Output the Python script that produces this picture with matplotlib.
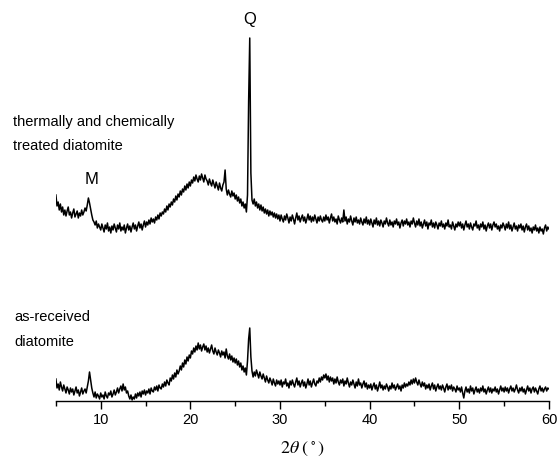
import numpy as np
import matplotlib.pyplot as plt
from matplotlib.ticker import MultipleLocator

plt.rcParams['font.family'] = ['Liberation Sans', 'DejaVu Sans']
plt.rcParams['mathtext.fontset'] = 'stix'

# 2theta grid, 0.125 deg steps from 5 to 60
two_theta = np.linspace(5.0, 60.0, 441)

# intensity (a.u.), as-received diatomite
as_received = [
    22, 13, 17, 11, 19, 14, 10, 16, 12, 8, 14, 11, 7, 13, 9, 12, 6, 10, 14, 8, 11, 5, 9, 13, 7, 10, 12, 8, 14, 20, 29, 21, 13, 8, 4, 9, 3, 7, 5, 2,
    8, 4, 6, 2, 9, 5, 3, 8, 6, 10, 4, 7, 11, 6, 9, 13, 8, 12, 15, 10, 17, 11, 14, 8, 10, 5, 2, 6, 1, 4, 2, 7, 3, 8, 5, 9, 4, 10, 7, 11,
    6, 10, 8, 12, 7, 13, 10, 9, 14, 11, 15, 10, 16, 13, 12, 17, 14, 19, 15, 21, 18, 16, 23, 20, 26, 22, 28, 24, 31, 27, 30, 35, 31, 38, 34, 41, 37, 44, 40, 46,
    43, 50, 47, 53, 49, 55, 51, 58, 52, 56, 50, 54, 57, 51, 55, 49, 53, 48, 52, 56, 50, 47, 53, 49, 46, 51, 48, 44, 50, 46, 49, 43, 52, 45, 42, 47, 41, 45, 39, 43,
    38, 42, 36, 40, 34, 38, 31, 35, 29, 33, 26, 40, 62, 73, 44, 30, 24, 29, 25, 31, 27, 23, 29, 25, 22, 27, 23, 19, 25, 21, 18, 23, 20, 16, 22, 18, 15, 21, 17, 20,
    16, 21, 14, 19, 17, 22, 15, 18, 13, 20, 16, 21, 17, 14, 19, 23, 16, 20, 14, 18, 21, 15, 19, 13, 17, 22, 16, 20, 14, 18, 22, 17, 15, 20, 18, 23, 19, 24, 21, 26,
    23, 27, 21, 25, 19, 24, 20, 23, 17, 22, 18, 24, 19, 16, 21, 18, 22, 15, 20, 17, 23, 18, 14, 19, 16, 21, 17, 13, 19, 15, 22, 16, 18, 13, 17, 20, 14, 18, 12, 16,
    13, 17, 11, 15, 18, 12, 16, 10, 14, 19, 13, 16, 11, 15, 12, 17, 14, 10, 15, 12, 18, 13, 16, 11, 14, 17, 12, 15, 10, 16, 13, 18, 14, 17, 15, 19, 16, 21, 17, 22,
    18, 23, 19, 16, 21, 17, 14, 19, 15, 18, 12, 16, 13, 17, 11, 15, 18, 12, 16, 10, 14, 17, 12, 15, 11, 16, 13, 9, 14, 17, 11, 15, 12, 16, 10, 14, 12, 9, 15, 11,
    13, 9, 14, 8, 3, 10, 14, 9, 12, 8, 15, 10, 13, 7, 11, 14, 9, 12, 8, 13, 10, 15, 9, 12, 7, 11, 14, 9, 13, 8, 12, 10, 14, 9, 12, 7, 11, 15, 10, 13,
    9, 14, 10, 13, 8, 12, 15, 10, 13, 9, 12, 16, 11, 8, 13, 10, 14, 9, 12, 7, 11, 15, 10, 13, 8, 12, 14, 9, 13, 10, 7, 12, 15, 10, 13, 9, 12, 14, 10, 13,
    12,
]

# thermally and chemically treated diatomite (stacked above)
treated = [
    206, 195, 199, 191, 197, 189, 194, 186, 191, 185, 190, 194, 186, 189, 183, 188, 192, 184, 187, 190, 183, 188, 185, 191, 186, 189, 193, 190, 196, 203, 198, 192, 186, 181, 179, 176, 180, 173, 177, 174,
    171, 177, 173, 169, 176, 172, 178, 170, 174, 168, 175, 171, 177, 173, 169, 176, 172, 178, 170, 174, 171, 176, 168, 173, 177, 171, 175, 169, 174, 178, 172, 176, 170, 175, 179, 173, 177, 171, 176, 180,
    174, 179, 176, 181, 177, 183, 179, 182, 178, 184, 181, 186, 182, 188, 185, 189, 187, 192, 189, 195, 191, 197, 194, 199, 196, 202, 199, 205, 201, 207, 204, 210, 206, 212, 209, 215, 211, 217, 213, 219,
    215, 221, 218, 224, 220, 226, 222, 219, 225, 221, 227, 223, 219, 226, 222, 220, 216, 222, 218, 215, 221, 217, 213, 219, 215, 211, 218, 213, 210, 216, 219, 231, 212, 206, 211, 207, 204, 210, 205, 208,
    202, 206, 200, 204, 198, 202, 195, 199, 193, 197, 189, 206, 300, 363, 228, 201, 197, 202, 195, 199, 193, 197, 191, 196, 190, 194, 188, 192, 187, 191, 185, 190, 186, 189, 184, 188, 183, 187, 182, 186,
    180, 186, 182, 179, 185, 181, 187, 183, 178, 184, 180, 186, 182, 177, 183, 188, 181, 185, 179, 183, 186, 180, 184, 178, 182, 187, 181, 185, 179, 184, 180, 186, 182, 178, 184, 180, 185, 181, 179, 184,
    180, 186, 181, 184, 178, 183, 187, 180, 184, 179, 182, 177, 185, 181, 178, 183, 179, 191, 180, 184, 177, 182, 179, 185, 180, 176, 183, 179, 184, 178, 181, 177, 183, 179, 176, 182, 178, 184, 177, 181,
    176, 182, 178, 174, 181, 177, 183, 176, 180, 175, 181, 178, 174, 180, 177, 183, 178, 175, 181, 176, 179, 174, 180, 177, 182, 176, 179, 173, 178, 181, 175, 180, 177, 182, 176, 179, 174, 180, 177, 183,
    178, 174, 180, 176, 182, 175, 179, 173, 177, 181, 175, 179, 172, 178, 176, 181, 174, 178, 173, 179, 176, 172, 178, 175, 180, 174, 177, 172, 178, 175, 181, 174, 176, 172, 179, 175, 171, 177, 174, 179,
    175, 179, 173, 177, 171, 176, 180, 174, 177, 172, 178, 174, 171, 177, 175, 180, 173, 176, 171, 177, 174, 179, 172, 176, 170, 175, 178, 173, 177, 171, 176, 179, 174, 177, 172, 175, 170, 176, 173, 178,
    175, 171, 177, 173, 179, 172, 176, 170, 174, 178, 172, 175, 170, 176, 173, 177, 171, 175, 169, 174, 177, 171, 175, 170, 173, 168, 174, 171, 176, 170, 173, 168, 174, 170, 172, 167, 173, 176, 170, 174,
    172,
]

fig = plt.figure(figsize=(5.59, 4.66), dpi=100)
ax = fig.add_axes([0.100, 0.1395, 0.882, 0.8605])

ax.plot(two_theta, as_received, color='black', lw=1.1)
ax.plot(two_theta, treated, color='black', lw=1.1)

ax.set_xlim(5, 60)
ax.set_ylim(0, 401)
for s in ['left', 'right', 'top']:
    ax.spines[s].set_visible(False)
ax.spines['bottom'].set_linewidth(1.0)
ax.set_yticks([])
ax.xaxis.set_major_locator(MultipleLocator(10))
ax.xaxis.set_minor_locator(MultipleLocator(5))
ax.tick_params(axis='x', which='major', direction='out', length=6, width=1, labelsize=10.5, pad=3)
ax.tick_params(axis='x', which='minor', direction='out', length=3.5, width=1)
ax.set_xlabel(r'$2\theta\ (\,^{\circ}\,)$', fontsize=13, labelpad=9)

ax.text(0.2, 279, 'thermally and chemically', fontsize=10.5, va='center', ha='left', clip_on=False)
ax.text(0.2, 255, 'treated diatomite', fontsize=10.5, va='center', ha='left', clip_on=False)
ax.text(9.0, 221, 'M', fontsize=12, va='center', ha='center')
ax.text(26.6, 381, 'Q', fontsize=12, va='center', ha='center')
ax.text(0.4, 84, 'as-received', fontsize=10.5, va='center', ha='left', clip_on=False)
ax.text(0.4, 59, 'diatomite', fontsize=10.5, va='center', ha='left', clip_on=False)

fig.savefig('out.png', dpi=100)
